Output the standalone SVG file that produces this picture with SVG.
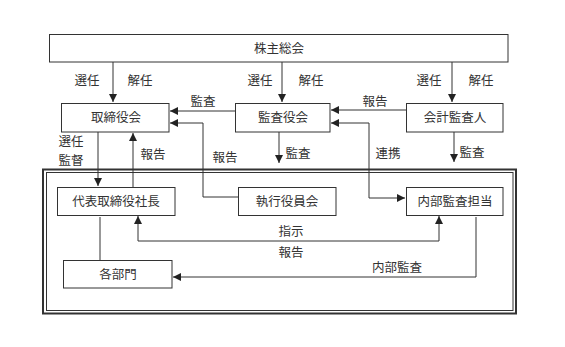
<svg xmlns="http://www.w3.org/2000/svg" width="565" height="347" viewBox="0 0 565 347">
<style>
.box{fill:#fff;stroke:#333;stroke-width:1}
.ln{fill:none;stroke:#333;stroke-width:1}
text{font-family:"Noto Sans CJK JP","Noto Sans CJK SC",sans-serif;font-size:12.5px;fill:#333}
.c{text-anchor:middle}
</style>
<defs>
<marker id="ah" viewBox="0 0 10 10" refX="10" refY="5" markerWidth="8" markerHeight="8" markerUnits="userSpaceOnUse" orient="auto">
<path d="M0,0 L10,5 L0,10 z" fill="#222"/>
</marker>
</defs>
<rect width="565" height="347" fill="#fff"/>
<g id="frame">
<rect x="43" y="169.5" width="473" height="144" fill="none" stroke="#333" stroke-width="2"/>
<rect x="46.5" y="172.5" width="466.5" height="138" fill="none" stroke="#333" stroke-width="1"/>
</g>
<g id="connectors">
<line class="ln" x1="113" y1="62" x2="113" y2="102" marker-end="url(#ah)"/>
<line class="ln" x1="282" y1="62" x2="282" y2="102" marker-end="url(#ah)"/>
<line class="ln" x1="452" y1="62" x2="452" y2="102" marker-end="url(#ah)"/>
<line class="ln" x1="235" y1="111" x2="170" y2="111" marker-end="url(#ah)"/>
<line class="ln" x1="406" y1="110" x2="331" y2="110" marker-end="url(#ah)"/>
<polyline class="ln" points="238,197 203,197 203,123 170,123" marker-end="url(#ah)"/>
<polyline class="ln" points="369,123 331,123" marker-end="url(#ah)"/>
<polyline class="ln" points="369,123 369,198 405,198" marker-end="url(#ah)"/>
<line class="ln" x1="98" y1="132" x2="98" y2="186" marker-end="url(#ah)"/>
<line class="ln" x1="133" y1="187" x2="133" y2="133" marker-end="url(#ah)"/>
<line class="ln" x1="279" y1="132" x2="279" y2="163" marker-end="url(#ah)"/>
<line class="ln" x1="454" y1="132" x2="454" y2="162" marker-end="url(#ah)"/>
<polyline class="ln" points="138,241 138,216" marker-end="url(#ah)"/>
<polyline class="ln" points="138,241 439,241 439,216" marker-end="url(#ah)"/>
<line class="ln" x1="100" y1="217" x2="100" y2="260"/>
<polyline class="ln" points="476,217 476,277 173,277" marker-end="url(#ah)"/>
</g>
<g id="labels">
<text class="c" x="87" y="85">選任</text>
<text class="c" x="140" y="85">解任</text>
<text class="c" x="260" y="85">選任</text>
<text class="c" x="311" y="85">解任</text>
<text class="c" x="429" y="85">選任</text>
<text class="c" x="481" y="85">解任</text>
<text class="c" x="203" y="106">監査</text>
<text class="c" x="375" y="106">報告</text>
<text class="c" x="71" y="146">選任</text>
<text class="c" x="71" y="165">監督</text>
<text class="c" x="153" y="159">報告</text>
<text class="c" x="225" y="162">報告</text>
<text class="c" x="298" y="158">監査</text>
<text class="c" x="388" y="158">連携</text>
<text class="c" x="472" y="157">監査</text>
<text class="c" x="291" y="236">指示</text>
<text class="c" x="291" y="257">報告</text>
<text class="c" x="397" y="272">内部監査</text>
</g>
<g id="n-kabunushi"><rect class="box" x="49.5" y="34.5" width="458.5" height="27.5"/><text class="c" x="279" y="53">株主総会</text></g>
<g id="n-torishimariyaku"><rect class="box" x="61.5" y="103.5" width="107.5" height="28.5"/><text class="c" x="116" y="122">取締役会</text></g>
<g id="n-kansayaku"><rect class="box" x="235.5" y="103.5" width="94.5" height="28.5"/><text class="c" x="283" y="122">監査役会</text></g>
<g id="n-kaikei"><rect class="box" x="406.5" y="103.5" width="96.5" height="28.5"/><text class="c" x="455" y="122">会計監査人</text></g>
<g id="n-shacho"><rect class="box" x="57.5" y="187.5" width="117.5" height="28"/><text class="c" x="116" y="206">代表取締役社長</text></g>
<g id="n-shikko"><rect class="box" x="238.5" y="187.5" width="97.5" height="28"/><text class="c" x="287" y="206">執行役員会</text></g>
<g id="n-naibu"><rect class="box" x="406.5" y="187.5" width="96.5" height="28"/><text class="c" x="455" y="206">内部監査担当</text></g>
<g id="n-kakubumon"><rect class="box" x="63.5" y="260.5" width="108.5" height="27.5"/><text class="c" x="118" y="279">各部門</text></g>
</svg>
